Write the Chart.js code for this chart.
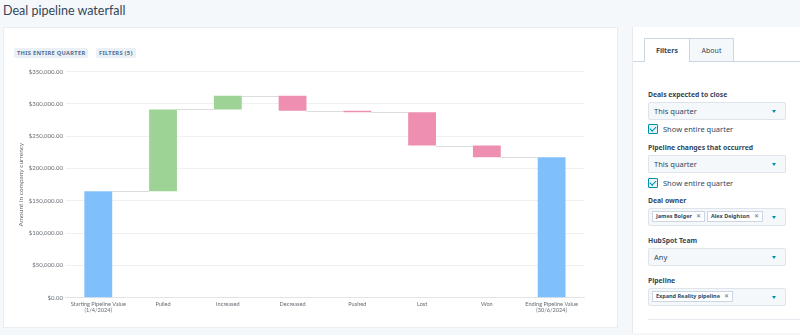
<!DOCTYPE html>
<html><head><meta charset="utf-8">
<script src="https://cdn.jsdelivr.net/npm/chart.js@4.4.1/dist/chart.umd.min.js"></script>
<style>
*{box-sizing:border-box;margin:0;padding:0}
body{width:800px;height:335px;background:#f5f8fa;font-family:"Noto Sans",Lato,sans-serif;color:#33475b;position:relative;overflow:hidden}
#title{position:absolute;left:3px;top:3px;font-size:12.5px;font-family:Lato,sans-serif;font-weight:400;color:#33475b}
#card{position:absolute;left:3px;top:27px;width:615px;height:301px;background:#fff;border:1px solid #e9eef3}
.tag{position:absolute;top:48px;height:10px;background:#eaf0f6;color:#516f90;font-size:5.7px;font-weight:700;letter-spacing:.3px;line-height:10px;padding:0 3px;border-radius:2px}
#chartWrap{position:absolute;left:3px;top:65px;width:610px;height:266px}
#panel{position:absolute;left:632px;top:27px;width:168px;height:306px;background:#fff;border-left:1px solid #e5ebf1}
.tab{position:absolute;top:11px;height:24px;font-size:7px;line-height:24px;text-align:center}
#tabF{left:11px;width:46px;background:#fff;border:1px solid #cbd6e2;border-bottom:none;font-weight:700}
#tabA{left:57px;width:44px;background:#f5f8fa;border:1px solid #cbd6e2;border-left:none}
#tabline{position:absolute;left:101px;top:34px;width:67px;height:1px;background:#cbd6e2}
#tabline2{position:absolute;left:0;top:34px;width:11px;height:1px;background:#cbd6e2}
.lbl{position:absolute;left:15px;font-size:6.8px;font-weight:700;color:#33475b}
.dd{position:absolute;left:15px;width:138px;height:18px;background:#f5f8fa;border:1px solid #dfe3eb;border-radius:2px;font-size:7.5px;line-height:16px;padding-left:5px;color:#33475b}
.dd:after{content:"";position:absolute;right:9px;top:7px;border-left:2.5px solid transparent;border-right:2.5px solid transparent;border-top:3px solid #0091ae}
.cb{position:absolute;left:15px;font-size:7.5px;color:#33475b;padding-left:15px;line-height:10px}
.cb:before{content:"";position:absolute;left:0;top:0;width:8px;height:8px;border:1px solid #0091ae;border-radius:1px;background:#e5f5f8}
.cb:after{content:"";position:absolute;left:3px;top:1px;width:2.5px;height:5px;border-right:1.3px solid #0091ae;border-bottom:1.3px solid #0091ae;transform:rotate(45deg)}
.pill{display:inline-block;margin-top:2px;margin-left:-2px;margin-right:4px;height:11px;line-height:9px;font-size:5.5px;font-weight:700;border:1px solid #cbd6e2;background:#fff;padding:0 3px;vertical-align:top}
.pill span{font-weight:400;margin-left:4px;color:#516f90}
#bline{position:absolute;left:15px;top:292px;width:153px;height:1px;background:#e5ebf1}
</style></head>
<body>
<div id="title">Deal pipeline waterfall</div>
<div id="card"></div>
<div class="tag" style="left:14px">THIS ENTIRE QUARTER</div>
<div class="tag" style="left:96px">FILTERS (5)</div>
<div id="chartWrap"><canvas id="c"></canvas></div>
<div id="panel">
  <div class="tab" id="tabF">Filters</div>
  <div class="tab" id="tabA">About</div>
  <div id="tabline"></div><div id="tabline2"></div>
  <div class="lbl" style="top:63px">Deals expected to close</div>
  <div class="dd" style="top:75px">This quarter</div>
  <div class="cb" style="top:97px">Show entire quarter</div>
  <div class="lbl" style="top:116px">Pipeline changes that occurred</div>
  <div class="dd" style="top:128px">This quarter</div>
  <div class="cb" style="top:151px">Show entire quarter</div>
  <div class="lbl" style="top:169px">Deal owner</div>
  <div class="dd" style="top:181px"><span class="pill">James Bolger<span>✕</span></span><span class="pill">Alex Deighton<span>✕</span></span></div>
  <div class="lbl" style="top:209px">HubSpot Team</div>
  <div class="dd" style="top:221px">Any</div>
  <div class="lbl" style="top:249px">Pipeline</div>
  <div class="dd" style="top:261px"><span class="pill">Expand Reality pipeline<span>✕</span></span></div>
  <div id="bline"></div>
</div>
<script>
const categories = [['Starting Pipeline Value','(1/4/2024)'],'Pulled','Increased','Decreased','Pushed','Lost','Won',['Ending Pipeline Value','(30/6/2024)']];
const startValue = 165000;
const changes = [126500, 21000, -23000, -2500, -51500, -18000];
const endValue = 217500;
const yTicks = [0,50000,100000,150000,200000,250000,300000,350000];

const ranges = [[0,startValue]];
const levels = [startValue];
let run = startValue;
for (const ch of changes){ ranges.push([run, run+ch]); run += ch; levels.push(run); }
ranges.push([0,endValue]);
const colors = ranges.map((r,i)=> (i===0||i===ranges.length-1)?'#80c0fa':(r[1]>=r[0]?'#9dd395':'#ee8fb1'));

const connectors = {
  id:'connectors',
  beforeDatasetsDraw(chart){
    const ctx=chart.ctx, meta=chart.getDatasetMeta(0), y=chart.scales.y;
    ctx.save(); ctx.strokeStyle='#dcdcdc'; ctx.lineWidth=1;
    for(let i=0;i<levels.length;i++){
      const a=meta.data[i], b=meta.data[i+1];
      const py=Math.round(y.getPixelForValue(levels[i]))+0.5;
      ctx.beginPath(); ctx.moveTo(a.x+a.width/2,py); ctx.lineTo(b.x-b.width/2,py); ctx.stroke();
    }
    ctx.restore();
  }
};

const tickColor = '#666c72';
new Chart(document.getElementById('c'),{
  type:'bar',
  data:{labels:categories,datasets:[{data:ranges,backgroundColor:colors,borderWidth:0,categoryPercentage:1,barPercentage:0.43}]},
  plugins:[connectors],
  options:{
    responsive:true,maintainAspectRatio:false,animation:false,
    layout:{padding:{left:14,right:29,top:6,bottom:14}},
    plugins:{legend:{display:false},tooltip:{enabled:false}},
    scales:{
      x:{grid:{display:false,drawTicks:false},border:{color:'#e3e3e3'},ticks:{color:tickColor,font:{size:5.6,family:'Lato',lineHeight:1},maxRotation:0,autoSkip:false,padding:4}},
      y:{min:0,max:350000,afterBuildTicks(s){s.ticks=yTicks.map(v=>({value:v}));},
         grid:{color:'#eef0f2',drawTicks:false},border:{display:false},
         ticks:{color:tickColor,font:{size:6,family:'Lato'},padding:3,callback:v=>'$'+Number(v).toLocaleString('en-US',{minimumFractionDigits:2})},
         title:{display:true,text:'Amount in company currency',color:tickColor,font:{size:6.5,family:'Lato'},padding:{top:0,bottom:1}}}
    }
  }
});
</script>
</body></html>
